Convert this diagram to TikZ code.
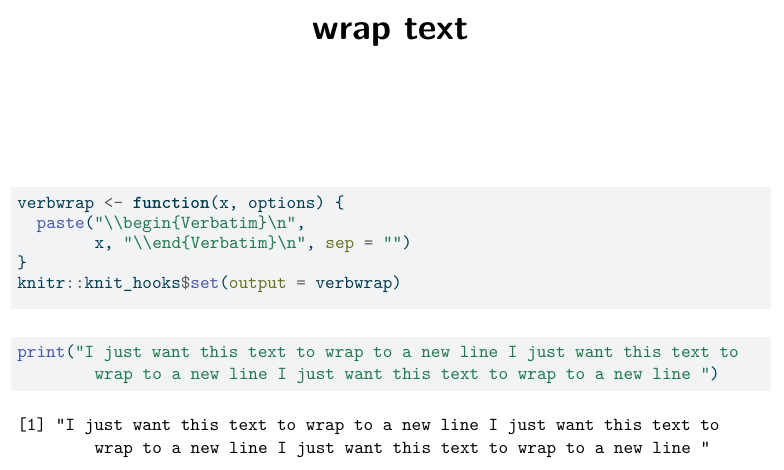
\documentclass[tikz,border=0pt]{standalone}
\definecolor{codebg}{HTML}{F1F3F5}
\definecolor{codefg}{HTML}{003B4F}
\definecolor{codefun}{HTML}{4758AB}
\definecolor{codestr}{HTML}{20794D}
\definecolor{codeattr}{HTML}{657422}
\definecolor{codeop}{HTML}{5E5E5E}
\usepackage{tikz}
\newcommand{\hlfun}[1]{\textcolor{codefun}{#1}}
\newcommand{\hlstrg}[1]{\textcolor{codestr}{#1}}
\newcommand{\hlattr}[1]{\textcolor{codeattr}{#1}}
\newcommand{\hlopr}[1]{\textcolor{codeop}{#1}}
\newcommand{\bs}{\textbackslash}
\tikzset{
  codebox/.style={fill=codebg},
  codeline/.style={anchor=base west, inner sep=0pt, text=codefg,
    font=\fontsize{10.64}{12}\selectfont\ttfamily\frenchspacing},
  outline/.style={codeline, text=black},
}

\begin{document}
\begin{tikzpicture}[x=0.5807pt, y=-0.5807pt]
  \useasboundingbox (0,0) rectangle (784,470);
  % slide title
  \node[anchor=base, inner sep=0pt, font=\fontsize{20.7}{25}\selectfont\sffamily\bfseries] (title) at (391,39.5) {wrap text};

  % hook definition
  \fill[codebox] (11,187) rectangle (771,309);
  \node[codeline] (def1) at (17,208) {verbwrap \hlopr{<-} \textbf{function}(x, options) \{};
  \node[codeline] (def2) at (36.3,228) {\hlfun{paste}(\hlstrg{"\bs\bs begin\{Verbatim\}\bs n"},};
  \node[codeline] (def3) at (94.2,248) {x, \hlstrg{"\bs\bs end\{Verbatim\}\bs n"}, \hlattr{sep} \hlopr{=} \hlstrg{""})};
  \node[codeline] (def4) at (17,268) {\}};
  \node[codeline] (def5) at (17,288) {knitr\hlopr{::}knit\_hooks\hlopr{\$}\hlfun{set}(\hlattr{output} \hlopr{=} verbwrap)};

  % call
  \fill[codebox] (11,337) rectangle (771,391);
  \node[codeline] (call1) at (17,357) {\hlfun{print}(\hlstrg{"I just want this text to wrap to a new line I just want this text to}};
  \node[codeline] (call2) at (94.2,379.5) {\hlstrg{wrap to a new line I just want this text to wrap to a new line "})};

  % printed result
  \node[outline] (out1) at (17,430.5) {[1] "I just want this text to wrap to a new line I just want this text to};
  \node[outline] (out2) at (94.2,453) {wrap to a new line I just want this text to wrap to a new line "};
\end{tikzpicture}
\end{document}
